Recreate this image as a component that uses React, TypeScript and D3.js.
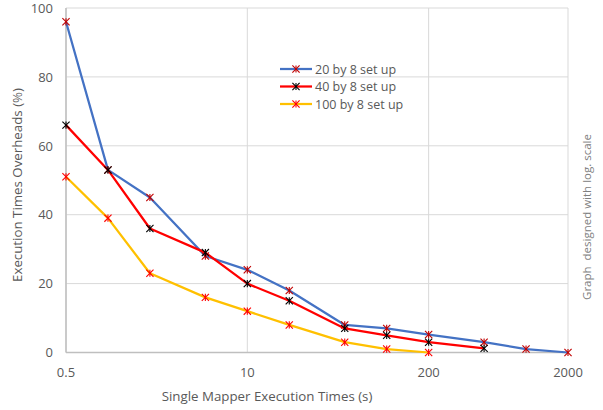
import React from 'react';
import * as d3 from 'd3';

const times = [0.5, 1, 2, 5, 10, 20, 50, 100, 200, 500, 1000, 2000];
const set20 = [96, 53, 45, 28, 24, 18, 8, 7, 5.2, 3, 1, 0];
const set40 = [66, 53, 36, 29, 20, 15, 7, 5, 3, 1.2];
const set100 = [51, 39, 23, 16, 12, 8, 3, 1, 0];
const xTicks = [0.5, 10, 200, 2000];
const yTicks = [0, 20, 40, 60, 80, 100];

const series = [
  { name: '20 by 8 set up', values: set20, color: '#4472C4', marker: '#C00000' },
  { name: '40 by 8 set up', values: set40, color: '#FF0000', marker: '#000000' },
  { name: '100 by 8 set up', values: set100, color: '#FFC000', marker: '#FF0000' },
];

const W = 603, H = 410;
const plot = { left: 66, right: 568, top: 8, bottom: 352.5 };
const font = '"Open Sans", "Liberation Sans", sans-serif';

function Star({ x, y, color }: { x: number; y: number; color: string }) {
  const r = 3.6;
  return (
    <g stroke={color} strokeWidth={1.1}>
      <line x1={x - r} y1={y - r} x2={x + r} y2={y + r} />
      <line x1={x - r} y1={y + r} x2={x + r} y2={y - r} />
      <line x1={x} y1={y - r} x2={x} y2={y + r} />
    </g>
  );
}

export default function App() {
  const x = d3.scaleLog().domain([0.5, 2000]).range([plot.left, plot.right]);
  const y = d3.scaleLinear().domain([0, 100]).range([plot.bottom, plot.top]);
  const line = d3.line<number>().x((d, i) => x(times[i])).y(d => y(d));

  return (
    <svg width={W} height={H} style={{ position: 'absolute', left: 0, top: 0, background: '#fff' }} fontFamily={font}>
      {/* grid */}
      {yTicks.map(t => (
        <line key={'gy' + t} x1={plot.left} x2={plot.right} y1={y(t)} y2={y(t)} stroke="#D9D9D9" strokeWidth={1} />
      ))}
      {xTicks.map(t => (
        <line key={'gx' + t} x1={x(t)} x2={x(t)} y1={plot.top} y2={plot.bottom} stroke="#D9D9D9" strokeWidth={1} />
      ))}
      <line x1={plot.left} x2={plot.left} y1={plot.top} y2={plot.bottom} stroke="#BFBFBF" strokeWidth={1.5} />
      <line x1={plot.left} x2={plot.right} y1={plot.bottom} y2={plot.bottom} stroke="#BFBFBF" strokeWidth={1.5} />

      {/* tick labels */}
      {yTicks.map(t => (
        <text key={'ty' + t} x={53} y={y(t) + 4.7} textAnchor="end" fontSize={13} fill="#595959">{t}</text>
      ))}
      {xTicks.map(t => (
        <text key={'tx' + t} x={x(t)} y={377} textAnchor="middle" fontSize={13} fill="#595959">{t}</text>
      ))}

      {/* series */}
      {series.map(s => (
        <g key={s.name}>
          <path d={line(s.values) || ''} fill="none" stroke={s.color} strokeWidth={2.25} strokeLinejoin="round" />
          {s.values.map((v, i) => (
            <Star key={i} x={x(times[i])} y={y(v)} color={s.marker} />
          ))}
        </g>
      ))}

      {/* legend */}
      {series.map((s, i) => {
        const ly = 69 + i * 17.5;
        return (
          <g key={'lg' + s.name}>
            <line x1={280} x2={312} y1={ly} y2={ly} stroke={s.color} strokeWidth={2.25} />
            <Star x={296} y={ly} color={s.marker} />
            <text x={315} y={ly + 4.5} fontSize={12.5} fill="#595959">{s.name}</text>
          </g>
        );
      })}

      {/* axis titles */}
      <text x={267} y={401} textAnchor="middle" fontSize={13.3} fill="#595959">Single Mapper Execution Times (s)</text>
      <text transform="translate(22,185) rotate(-90)" textAnchor="middle" fontSize={13.3} fill="#595959">Execution Times Overheads (%)</text>
      <text transform="translate(591,217) rotate(-90)" textAnchor="middle" fontSize={11.5} fill="#808080" style={{ whiteSpace: 'pre' }}>Graph  designed with log. scale</text>
    </svg>
  );
}
